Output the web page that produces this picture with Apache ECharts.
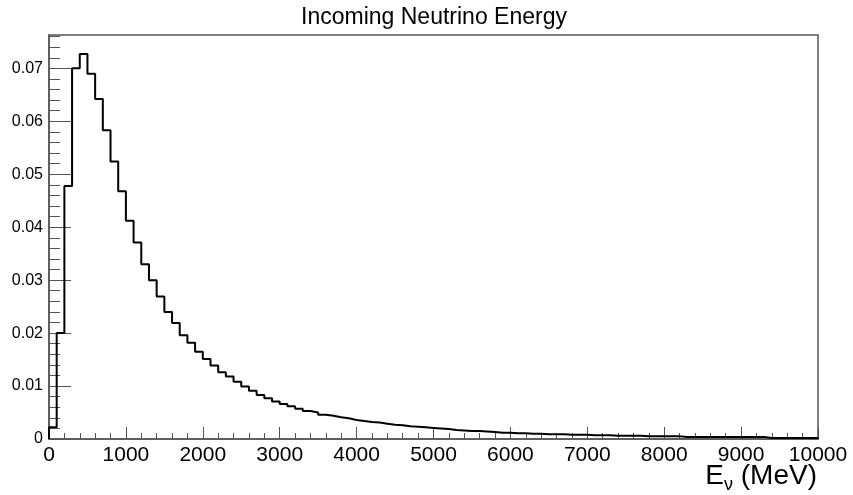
<!DOCTYPE html>
<html>
<head>
<meta charset="utf-8">
<script src="https://cdn.jsdelivr.net/npm/echarts@6/dist/echarts.min.js"></script>
<style>
  html, body { margin: 0; padding: 0; background: #fff; }
  #chart { width: 853px; height: 495px; }
</style>
</head>
<body>
<div id="chart"></div>
<script>
// histogram: 100 bins of 100 MeV from 0 to 10000
var binWidth = 100;
var binCounts = [
  0.0022, 0.0200, 0.0478, 0.0700, 0.0727, 0.0690, 0.0642, 0.0583, 0.0524, 0.0468,
  0.0412, 0.0371, 0.0330, 0.0300, 0.0269, 0.0240, 0.0219, 0.0196, 0.0182, 0.0165,
  0.0151, 0.0139, 0.0126, 0.0118, 0.0108, 0.0099, 0.0091, 0.0083, 0.0077, 0.0071,
  0.0066, 0.0062, 0.0057, 0.0053, 0.0050, 0.0046, 0.0044, 0.0041, 0.0039, 0.0036,
  0.0034, 0.0032, 0.0031, 0.0029, 0.0027, 0.0026, 0.0024, 0.0023, 0.0022, 0.0021,
  0.0020, 0.0019, 0.0017, 0.0016, 0.0015, 0.0015, 0.0014, 0.0013, 0.0012, 0.0012,
  0.0011, 0.0011, 0.0010, 0.0010, 0.0009, 0.0009, 0.0009, 0.0008, 0.0008, 0.0008,
  0.0007, 0.0007, 0.0007, 0.0006, 0.0006, 0.0006, 0.0006, 0.0005, 0.0005, 0.0005,
  0.0005, 0.0005, 0.0004, 0.0004, 0.0004, 0.0004, 0.0004, 0.0004, 0.0004, 0.0004,
  0.0004, 0.0004, 0.0004, 0.0002, 0.0002, 0.0002, 0.0002, 0.0002, 0.0002, 0.0002
];
var yMajorTicks = [0, 0.01, 0.02, 0.03, 0.04, 0.05, 0.06, 0.07];
var yMinorStep = 0.002;
var xMin = 0, xMax = 10000, yMax = 0.0763;

// step outline points at bin edges
var outline = [[0, 0]];
for (var i = 0; i < binCounts.length; i++) {
  outline.push([i * binWidth, binCounts[i]]);
}
outline.push([binCounts.length * binWidth, binCounts[binCounts.length - 1]]);
outline.push([binCounts.length * binWidth, 0]);

var yMinorTicks = [];
for (var k = 0; k * yMinorStep <= yMax; k++) {
  yMinorTicks.push(+(k * yMinorStep).toFixed(4));
}

var font = "Liberation Sans, Arial, Helvetica, sans-serif";
var axisColor = "#555";

var myChart = echarts.init(document.getElementById("chart"));
var option = {
  animation: false,
  backgroundColor: "#fff",
  title: [
    {
      text: "Incoming Neutrino Energy",
      left: 434,
      top: 6,
      padding: 0,
      textAlign: "center",
      textStyle: { fontFamily: font, fontSize: 23, fontWeight: "normal", color: "#000" }
    },
    {
      text: "{a|E}{b|ν}{a| (MeV)}",
      left: 817,
      top: 462,
      padding: 0,
      textAlign: "right",
      textStyle: {
        fontFamily: font,
        fontWeight: "normal",
        rich: {
          a: { fontFamily: font, fontSize: 28, fontWeight: "normal", lineHeight: 32, color: "#000", verticalAlign: "top" },
          b: { fontFamily: font, fontSize: 18, fontWeight: "normal", lineHeight: 17, color: "#000", verticalAlign: "bottom" }
        }
      }
    }
  ],
  grid: {
    left: 49,
    right: 35,
    top: 35,
    bottom: 56,
    show: true,
    borderColor: axisColor,
    borderWidth: 1.5,
    containLabel: false
  },
  xAxis: {
    type: "value",
    min: xMin,
    max: xMax,
    interval: 1000,
    splitLine: { show: false },
    axisLine: { show: true, lineStyle: { color: axisColor, width: 1.5 } },
    axisTick: { show: true, inside: true, length: 12, lineStyle: { color: axisColor, width: 1 } },
    minorTick: { show: true, splitNumber: 5, length: 6, lineStyle: { color: axisColor, width: 1 } },
    axisLabel: {
      fontFamily: font, fontSize: 21, color: "#000", margin: 6,
      formatter: function (v) { return String(v); }
    }
  },
  yAxis: [
    {
      type: "value",
      position: "left",
      min: 0,
      max: yMax,
      splitLine: { show: false },
      axisLine: { show: true, lineStyle: { color: axisColor, width: 1.5 } },
      axisTick: {
        show: true, inside: true, length: 22, customValues: yMajorTicks,
        lineStyle: { color: axisColor, width: 1 }
      },
      axisLabel: {
        fontFamily: font, fontSize: 16, color: "#000", margin: 6,
        customValues: yMajorTicks,
        formatter: function (v) { return String(v); }
      }
    },
    {
      type: "value",
      position: "left",
      offset: 0,
      min: 0,
      max: yMax,
      splitLine: { show: false },
      axisLine: { show: false },
      axisTick: {
        show: true, inside: true, length: 11, customValues: yMinorTicks,
        lineStyle: { color: axisColor, width: 1 }
      },
      axisLabel: { show: false }
    }
  ],
  series: [
    {
      type: "line",
      step: "end",
      yAxisIndex: 0,
      data: outline,
      showSymbol: false,
      symbol: "none",
      lineStyle: { color: "#000", width: 2 },
      z: 5
    }
  ]
};
myChart.setOption(option);
</script>
</body>
</html>
